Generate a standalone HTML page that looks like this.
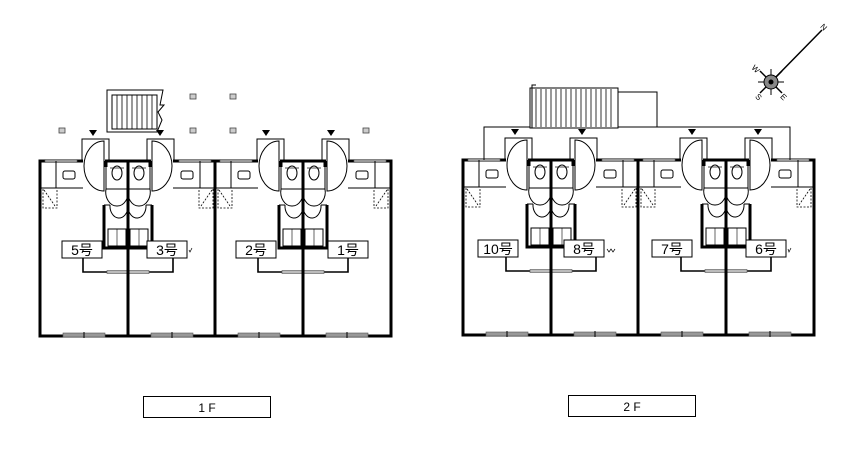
<!DOCTYPE html>
<html><head><meta charset="utf-8"><style>
html,body{margin:0;padding:0;background:#fff;width:855px;height:450px;overflow:hidden}
svg{display:block}
text{font-family:"Liberation Sans","Noto Sans CJK JP",sans-serif}
</style></head><body>
<svg width="855" height="450" viewBox="0 0 855 450" xmlns="http://www.w3.org/2000/svg">
<defs>
<g id="unit" fill="none" stroke="#000" stroke-width="1">
  <rect x="5" y="-1.5" width="32" height="3" fill="#999" stroke="#555" stroke-width="0.6"/>
  <polyline points="42,0 42,-22 69,-22 69,0"/>
  <rect x="43" y="-2" width="22" height="4" fill="#fff" stroke="none"/>
  <path d="M64,-20 L64,30 A20,25 0 0 1 44,5 A20,25 0 0 1 64,-20Z" fill="#fff"/>
  <line x1="0" y1="27" x2="43" y2="27"/>
  <line x1="16" y1="0" x2="16" y2="27"/>
  <rect x="23" y="10" width="12" height="8" rx="2"/>
  <path d="M3,28 V47 H17 V28 M4,29 L15,45" stroke-dasharray="2,1.5" stroke-width="0.8"/>
  <line x1="66" y1="0" x2="66" y2="6" stroke-width="3"/>
  <line x1="66" y1="6" x2="66" y2="28" stroke-width="1"/>
  <ellipse cx="77" cy="12" rx="5" ry="7"/>
  <line x1="70" y1="7" x2="84" y2="7" stroke-width="0.7"/>
  <path d="M66,28 H88 M66,28 A11,14 0 0 0 77,45 A11,14 0 0 0 88,28" fill="#fff"/>
  <polyline points="64,44 64,87 88,87" stroke-width="3"/>
  <path d="M64,44 H70 M70,44 A9,12 0 0 0 88,46"/>
  <rect x="68" y="68" width="18" height="17"/>
  <line x1="77" y1="68" x2="77" y2="85" stroke-width="0.6"/>
  <polyline points="43,96 43,111 88,111" stroke-width="1.6"/>
  <rect x="67" y="109.5" width="21" height="3" fill="#bbb" stroke="#555" stroke-width="0.6"/>
  <rect x="23" y="172" width="42" height="4" fill="#999" stroke="#555" stroke-width="0.6"/>
  <line x1="44" y1="171" x2="44" y2="177" stroke-width="1"/>
</g>
<g id="pair">
  <use href="#unit" x="0" y="0"/>
  <use href="#unit" transform="translate(176,0) scale(-1,1)"/>
  <line x1="88" y1="0" x2="88" y2="175" stroke="#000" stroke-width="3"/>
</g>
<g id="bldg">
  <rect x="0" y="0" width="351" height="175" fill="none" stroke="#000" stroke-width="3"/>
  <use href="#pair" x="0" y="0"/>
  <use href="#pair" x="175" y="0"/>
  <line x1="175" y1="0" x2="175" y2="175" stroke="#000" stroke-width="3"/>
</g>
<g id="tri"><polygon points="-4,0 4,0 0,6" fill="#000"/></g>
<g id="mb"><rect x="-3" y="-3" width="6" height="5" fill="#ccc" stroke="#444" stroke-width="0.8"/></g>
</defs>

<use href="#bldg" transform="translate(40,161)"/>
<g fill="none" stroke="#000" stroke-width="1">
<polyline points="110,132 107,132 107,90 163,90 160,105 164,105 158,112 162,120 157,132 110,132"/>
<rect x="112" y="95" width="45" height="34"/>
</g>
<g stroke="#000" stroke-width="0.8">
<line x1="117" y1="95" x2="117" y2="129"/><line x1="122" y1="95" x2="122" y2="129"/><line x1="127" y1="95" x2="127" y2="129"/><line x1="132" y1="95" x2="132" y2="129"/><line x1="137" y1="95" x2="137" y2="129"/><line x1="142" y1="95" x2="142" y2="129"/><line x1="147" y1="95" x2="147" y2="129"/><line x1="152" y1="95" x2="152" y2="129"/>
</g>
<use href="#tri" x="93" y="130"/><use href="#tri" x="160" y="130"/><use href="#tri" x="266" y="130"/><use href="#tri" x="331" y="130"/>
<use href="#mb" x="62" y="131"/><use href="#mb" x="193" y="97"/><use href="#mb" x="233" y="97"/><use href="#mb" x="193" y="131"/><use href="#mb" x="233" y="131"/><use href="#mb" x="366" y="131"/>

<use href="#bldg" transform="translate(463,160)"/>
<g fill="none" stroke="#000" stroke-width="1">
<polyline points="484,160 484,127 657,127 657,92 618,92"/>
<polyline points="657,127 790,127 790,160"/>
<rect x="530" y="88" width="88" height="40" fill="#fff"/>
<polyline points="532,128 532,85 536,85"/>
</g>
<g stroke="#000" stroke-width="0.8">
<line x1="536" y1="89" x2="536" y2="127"/><line x1="541" y1="89" x2="541" y2="127"/><line x1="546" y1="89" x2="546" y2="127"/><line x1="551" y1="89" x2="551" y2="127"/><line x1="556" y1="89" x2="556" y2="127"/><line x1="561" y1="89" x2="561" y2="127"/><line x1="566" y1="89" x2="566" y2="127"/><line x1="571" y1="89" x2="571" y2="127"/><line x1="576" y1="89" x2="576" y2="127"/><line x1="581" y1="89" x2="581" y2="127"/><line x1="586" y1="89" x2="586" y2="127"/><line x1="591" y1="89" x2="591" y2="127"/><line x1="596" y1="89" x2="596" y2="127"/><line x1="601" y1="89" x2="601" y2="127"/><line x1="606" y1="89" x2="606" y2="127"/><line x1="611" y1="89" x2="611" y2="127"/>
</g>
<use href="#tri" x="515" y="129"/><use href="#tri" x="582" y="129"/><use href="#tri" x="692" y="129"/><use href="#tri" x="758" y="129"/>

<g fill="#fff" stroke="#000" stroke-width="1">
<rect x="62" y="241" width="40" height="17"/><rect x="147" y="241" width="40" height="17"/>
<rect x="236" y="241" width="40" height="17"/><rect x="328" y="241" width="40" height="17"/>
<rect x="478" y="240" width="40" height="17"/><rect x="564" y="240" width="40" height="17"/>
<rect x="652" y="240" width="40" height="17"/><rect x="746" y="240" width="40" height="17"/>
</g>
<g font-size="14" text-anchor="middle" fill="#000">
<text x="82" y="255">5号</text><text x="167" y="255">3号</text><text x="256" y="255">2号</text><text x="348" y="255">1号</text>
<text x="498" y="254">10号</text><text x="584" y="254">8号</text><text x="672" y="254">7号</text><text x="766" y="254">6号</text>
</g>
<g fill="none" stroke="#000" stroke-width="0.7">
<path d="M189,250 l1,2 l2,-4"/><path d="M607,249 l2,3 l2,-3 l2,3 l2,-3"/><path d="M788,249 l1,3 l2,-4"/>
</g>

<g stroke="#000">
<line x1="771" y1="82" x2="822" y2="30" stroke-width="1.5"/>
<line x1="760" y1="71" x2="782" y2="93" stroke-width="1.5"/>
<line x1="760" y1="93" x2="782" y2="71" stroke-width="1.5"/>
<line x1="771" y1="69" x2="771" y2="95" stroke-width="1"/>
<line x1="758" y1="82" x2="784" y2="82" stroke-width="1"/>
<circle cx="771" cy="82" r="7" fill="#888" stroke-width="1"/>
<circle cx="771" cy="82" r="2" fill="#000"/>
</g>
<g font-size="8" font-family="Liberation Serif" fill="#000">
<text x="752" y="72" transform="rotate(45 756 69)">W</text>
<text x="756" y="100" transform="rotate(45 759 97)">S</text>
<text x="781" y="100" transform="rotate(45 784 97)">E</text>
<text x="821" y="30" transform="rotate(45 824 27)">N</text>
</g>

<rect x="143.5" y="396.5" width="127" height="21" fill="#fff" stroke="#000" stroke-width="1"/>
<text x="207" y="412" font-size="12" text-anchor="middle">1 F</text>
<rect x="568.5" y="395.5" width="127" height="21" fill="#fff" stroke="#000" stroke-width="1"/>
<text x="632" y="411" font-size="12" text-anchor="middle">2 F</text>
</svg>
</body></html>
